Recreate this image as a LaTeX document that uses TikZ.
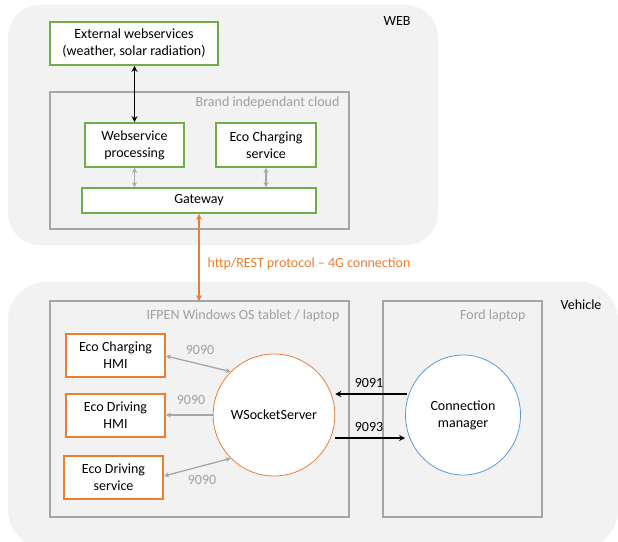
\documentclass[tikz,border=0pt]{standalone}
\usepackage{fontspec}
\setmainfont{Carlito}
\usetikzlibrary{shapes.geometric,arrows.meta}
\definecolor{bgg}{HTML}{F2F2F2}
\definecolor{boxg}{HTML}{A6A6A6}
\definecolor{txtg}{HTML}{A0A0A0}
\definecolor{grn}{HTML}{70AD47}
\definecolor{org}{HTML}{ED7D31}
\definecolor{blu}{HTML}{5B9BD5}
\tikzset{
  zone/.style={fill=bgg, draw=none, rounded corners=34pt},
  frame/.style={draw=boxg, line width=1.6pt},
  gbox/.style={draw=grn, fill=white, line width=1.6pt, align=center, inner sep=0pt},
  obox/.style={draw=org, fill=white, line width=2pt, align=center, inner sep=0pt},
  lbl/.style={font=\fontsize{14}{17}\selectfont},
  glbl/.style={font=\fontsize{14}{17}\selectfont, text=txtg},
  garr/.style={draw=boxg, line width=1.3pt, {Stealth[length=5pt,width=5pt]}-{Stealth[length=5pt,width=5pt]}},
  garrone/.style={draw=boxg, line width=1.3pt, -{Stealth[length=5pt,width=5pt]}},
  barr/.style={draw=black, line width=1.6pt, -{Stealth[length=6pt,width=6pt]}},
  bbarr/.style={draw=black, line width=1.6pt, {Stealth[length=6pt,width=6pt]}-{Stealth[length=6pt,width=6pt]}},
  oarr/.style={draw=org, line width=1.6pt, {Stealth[length=6pt,width=6pt]}-{Stealth[length=6pt,width=6pt]}},
}
\begin{document}
\begin{tikzpicture}[x=1pt,y=-1pt, font=\fontsize{14}{17}\selectfont]
\useasboundingbox (0,0) rectangle (618,541);
\begin{scope}
\clip (0,0) rectangle (618,541);
% zones
\fill[bgg, rounded corners=32pt] (8,5) rectangle (438,245);
\fill[bgg, rounded corners=38pt] (8,282) rectangle (618,548);
\end{scope}
\node[lbl] (web) at (397,21) {WEB};
\node[lbl] (veh) at (581,305) {Vehicle};

% cloud frame
\draw[frame] (50,92) rectangle (349,229);
\node[glbl, anchor=east] (cloudlbl) at (343,103) {Brand independant cloud};

% web boxes
\node[gbox, minimum width=168pt, minimum height=43pt] (ext) at (134,43.5) {External webservices\\(weather, solar radiation)};
\node[gbox, minimum width=99pt, minimum height=44pt] (wsp) at (134.5,145) {Webservice\\processing};
\node[gbox, minimum width=100pt, minimum height=44pt] (ecs) at (266,145) {Eco Charging\\service};
\node[gbox, minimum width=234pt, minimum height=25pt] (gw) at (199,200.5) {Gateway};

\draw[bbarr] (ext.south -| wsp.north) -- (wsp.north);
\draw[garr] (wsp.south) -- (wsp.south |- gw.north);
\draw[garr] (ecs.south) -- (ecs.south |- gw.north);

% vehicle frames
\draw[frame] (50,301) rectangle (349,517);
\node[glbl, anchor=east] (ifpenlbl) at (343,316) {IFPEN Windows OS tablet / laptop};
\draw[frame] (383,301) rectangle (542,517);
\node[glbl, anchor=east] (fordlbl) at (529,316) {Ford laptop};
\coordinate (ifpentop) at (199,301);

% orange link
\draw[oarr] (gw.south) -- (ifpentop);
\node[anchor=west, text=org] (http) at (204,264) {http/REST protocol -- 4G connection};

% vehicle nodes
\node[obox, minimum width=99pt, minimum height=43pt] (ech) at (115.5,355) {Eco Charging\\HMI};
\node[obox, minimum width=99pt, minimum height=43pt] (edh) at (115.5,415.5) {Eco Driving\\HMI};
\node[obox, minimum width=99pt, minimum height=43pt] (eds) at (113.5,477) {Eco Driving\\service};
\node[ellipse, draw=org, fill=white, line width=0.8pt, minimum width=114pt, minimum height=122pt, inner sep=0pt] (ws) at (274,415) {WSocketServer};
\node[ellipse, draw=blu, fill=white, line width=0.8pt, minimum width=115pt, minimum height=120pt, inner sep=0pt, align=center] (cm) at (463,415) {Connection\\manager};

\draw[garr] (ech.east |- 0,356) -- (ws.135);
\draw[garrone] (ws.west) -- (edh.east |- ws.west);
\draw[garr] (eds.east |- 0,476) -- (ws.225);
\node[glbl] (p1) at (200,350) {9090};
\node[glbl] (p2) at (191,400) {9090};
\node[glbl] (p3) at (202,480) {9090};

\draw[barr] (cm.west |- 0,394) ++(2,0) coordinate (a1) (a1) -- (ws.east |- a1);
\draw[barr] (ws.east |- 0,438) -- (cm.west |- 0,438);
\node (p4) at (369,383) {9091};
\node (p5) at (369,427) {9093};
\end{tikzpicture}
\end{document}
